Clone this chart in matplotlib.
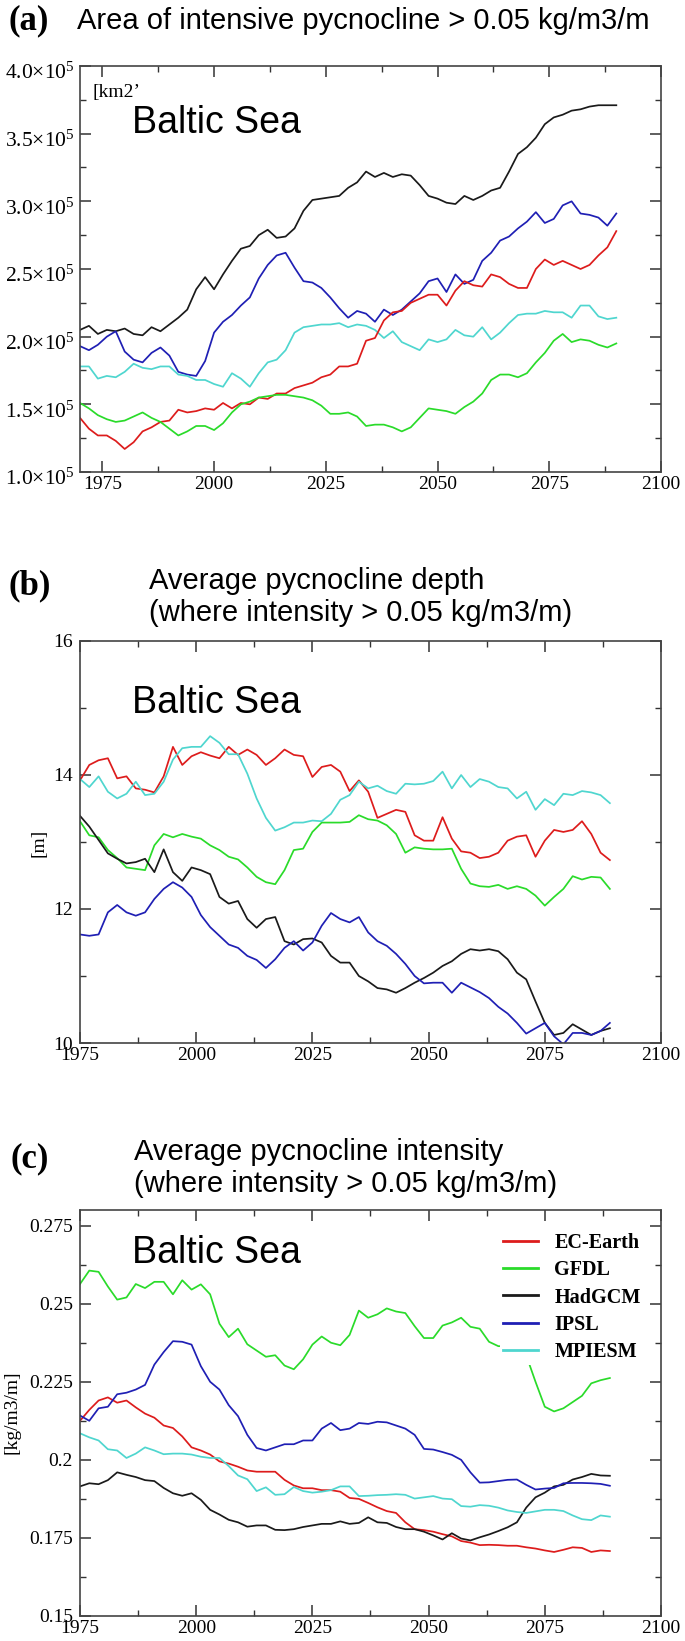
import numpy as np
import matplotlib
matplotlib.use('Agg')
import matplotlib.pyplot as plt
import matplotlib.transforms as mtransforms
from matplotlib.ticker import MultipleLocator, FuncFormatter

plt.rcParams['font.family'] = 'Liberation Serif'
plt.rcParams['mathtext.fontset'] = 'custom'
plt.rcParams['mathtext.rm'] = 'Liberation Serif'
plt.rcParams['mathtext.it'] = 'Liberation Serif:italic'

# ---------------- data ----------------
models = ['EC-Earth', 'GFDL', 'HadGCM', 'IPSL', 'MPIESM']
colors = ['#dd1c1c', '#2adb2a', '#1a1a1a', '#1f1fb4', '#4fd6cf']

# (a) area of intensive pycnocline, units of 1e5 km2, 1970..2090 every 2 yrs
years_a = np.arange(1970, 2091, 2)
area_ec = [1.40, 1.32, 1.27, 1.27, 1.23, 1.17, 1.22, 1.30, 1.33, 1.37, 1.38, 1.46, 1.44, 1.45, 1.47, 1.46,
           1.51, 1.47, 1.51, 1.50, 1.55, 1.54, 1.58, 1.58, 1.62, 1.64, 1.66, 1.70, 1.72, 1.78, 1.78, 1.80,
           1.97, 1.99, 2.12, 2.18, 2.19, 2.25, 2.28, 2.31, 2.31, 2.23, 2.34, 2.41, 2.38, 2.37, 2.46, 2.44,
           2.39, 2.36, 2.36, 2.50, 2.57, 2.53, 2.56, 2.53, 2.50, 2.53, 2.60, 2.66, 2.78]
area_gfdl = [1.51, 1.47, 1.42, 1.39, 1.37, 1.38, 1.41, 1.44, 1.40, 1.37, 1.32, 1.27, 1.30, 1.34, 1.34, 1.31,
             1.36, 1.44, 1.50, 1.52, 1.55, 1.56, 1.57, 1.57, 1.56, 1.55, 1.53, 1.49, 1.43, 1.43, 1.44, 1.41,
             1.34, 1.35, 1.35, 1.33, 1.30, 1.33, 1.40, 1.47, 1.46, 1.45, 1.43, 1.48, 1.52, 1.58, 1.68, 1.72,
             1.72, 1.70, 1.73, 1.81, 1.88, 1.97, 2.02, 1.96, 1.98, 1.97, 1.94, 1.92, 1.95]
area_had = [2.05, 2.08, 2.02, 2.05, 2.04, 2.06, 2.02, 2.01, 2.07, 2.04, 2.09, 2.14, 2.20, 2.35, 2.44, 2.35,
            2.46, 2.56, 2.65, 2.67, 2.75, 2.79, 2.73, 2.74, 2.80, 2.93, 3.01, 3.02, 3.03, 3.04, 3.10, 3.14,
            3.22, 3.18, 3.21, 3.18, 3.20, 3.19, 3.12, 3.04, 3.02, 2.99, 2.98, 3.04, 3.01, 3.04, 3.08, 3.10,
            3.22, 3.35, 3.40, 3.47, 3.57, 3.62, 3.64, 3.67, 3.68, 3.70, 3.71, 3.71, 3.71]
area_ipsl = [1.93, 1.90, 1.94, 2.00, 2.04, 1.89, 1.83, 1.81, 1.88, 1.92, 1.86, 1.74, 1.72, 1.71, 1.82, 2.03,
             2.11, 2.16, 2.23, 2.29, 2.43, 2.53, 2.60, 2.62, 2.51, 2.41, 2.40, 2.36, 2.29, 2.21, 2.14, 2.19,
             2.17, 2.11, 2.20, 2.16, 2.20, 2.26, 2.32, 2.41, 2.43, 2.33, 2.46, 2.39, 2.42, 2.56, 2.62, 2.71,
             2.74, 2.80, 2.85, 2.92, 2.84, 2.87, 2.97, 3.00, 2.91, 2.90, 2.88, 2.82, 2.91]
area_mpi = [1.78, 1.78, 1.69, 1.71, 1.70, 1.74, 1.80, 1.77, 1.76, 1.78, 1.78, 1.72, 1.71, 1.68, 1.68, 1.65,
            1.63, 1.73, 1.69, 1.63, 1.73, 1.81, 1.83, 1.90, 2.03, 2.07, 2.08, 2.09, 2.09, 2.10, 2.07, 2.09,
            2.08, 2.05, 1.99, 2.04, 1.96, 1.93, 1.90, 1.98, 1.96, 1.98, 2.05, 2.01, 2.00, 2.07, 1.98, 2.03,
            2.10, 2.16, 2.17, 2.17, 2.19, 2.18, 2.18, 2.14, 2.23, 2.23, 2.15, 2.13, 2.14]

# (b) average pycnocline depth [m], 1975..2089 every 2 yrs
years_bc = np.arange(1975, 2090, 2)
depth_ec = [13.92, 14.15, 14.22, 14.25, 13.95, 13.98, 13.80, 13.78, 13.74, 13.98, 14.42, 14.15, 14.28, 14.34,
            14.29, 14.25, 14.42, 14.30, 14.38, 14.30, 14.15, 14.25, 14.38, 14.30, 14.28, 13.97, 14.12, 14.15,
            14.05, 13.76, 13.92, 13.75, 13.36, 13.42, 13.48, 13.45, 13.10, 13.02, 13.02, 13.37, 13.05, 12.86,
            12.84, 12.76, 12.78, 12.84, 13.02, 13.08, 13.10, 12.78, 13.02, 13.18, 13.15, 13.18, 13.31, 13.12,
            12.84, 12.73]
depth_gfdl = [13.31, 13.10, 13.07, 12.88, 12.76, 12.62, 12.60, 12.58, 12.95, 13.12, 13.07, 13.12, 13.08, 13.05,
              12.95, 12.88, 12.78, 12.74, 12.62, 12.48, 12.40, 12.37, 12.58, 12.88, 12.90, 13.15, 13.29, 13.29,
              13.29, 13.30, 13.40, 13.34, 13.32, 13.25, 13.12, 12.84, 12.92, 12.90, 12.89, 12.89, 12.90, 12.60,
              12.38, 12.34, 12.33, 12.36, 12.30, 12.34, 12.30, 12.20, 12.05, 12.18, 12.30, 12.49, 12.44, 12.48,
              12.47, 12.30]
depth_had = [13.39, 13.23, 13.03, 12.83, 12.75, 12.68, 12.70, 12.75, 12.55, 12.89, 12.55, 12.42, 12.62, 12.58,
             12.52, 12.18, 12.08, 12.12, 11.85, 11.72, 11.85, 11.88, 11.52, 11.47, 11.55, 11.56, 11.50, 11.30,
             11.20, 11.20, 11.00, 10.92, 10.82, 10.80, 10.75, 10.82, 10.90, 10.97, 11.05, 11.15, 11.22, 11.33,
             11.40, 11.38, 11.40, 11.37, 11.25, 11.05, 10.95, 10.62, 10.30, 10.12, 10.15, 10.28, 10.20, 10.12,
             10.18, 10.22]
depth_ipsl = [11.62, 11.60, 11.62, 11.95, 12.06, 11.95, 11.90, 11.95, 12.15, 12.30, 12.40, 12.32, 12.18, 11.91,
              11.73, 11.60, 11.47, 11.42, 11.30, 11.24, 11.12, 11.25, 11.42, 11.52, 11.38, 11.50, 11.75, 11.94,
              11.85, 11.80, 11.88, 11.65, 11.52, 11.45, 11.33, 11.18, 11.00, 10.89, 10.90, 10.90, 10.75, 10.90,
              10.83, 10.76, 10.67, 10.54, 10.44, 10.30, 10.14, 10.22, 10.30, 10.10, 9.98, 10.15, 10.15, 10.12,
              10.18, 10.30]
depth_mpi = [13.94, 13.82, 13.98, 13.75, 13.65, 13.72, 13.90, 13.70, 13.72, 13.90, 14.23, 14.40, 14.42, 14.42,
             14.58, 14.48, 14.31, 14.31, 14.02, 13.65, 13.36, 13.17, 13.22, 13.29, 13.29, 13.32, 13.31, 13.42,
             13.63, 13.70, 13.90, 13.80, 13.84, 13.76, 13.72, 13.87, 13.86, 13.87, 13.91, 14.05, 13.80, 14.00,
             13.82, 13.94, 13.90, 13.82, 13.80, 13.65, 13.75, 13.48, 13.64, 13.55, 13.72, 13.70, 13.76, 13.74,
             13.70, 13.58]

# (c) average pycnocline intensity [kg/m3/m], 1975..2089 every 2 yrs
inten_ec = [0.2125, 0.2160, 0.2190, 0.2200, 0.2183, 0.2190, 0.2168, 0.2148, 0.2135, 0.2110, 0.2102, 0.2075,
            0.2040, 0.2030, 0.2017, 0.1995, 0.1988, 0.1978, 0.1966, 0.1962, 0.1962, 0.1962, 0.1936, 0.1918,
            0.1909, 0.1909, 0.1903, 0.1903, 0.1898, 0.1878, 0.1875, 0.1862, 0.1848, 0.1836, 0.1830, 0.1800,
            0.1778, 0.1775, 0.1770, 0.1762, 0.1755, 0.1740, 0.1735, 0.1727, 0.1728, 0.1727, 0.1725, 0.1725,
            0.1720, 0.1716, 0.1710, 0.1705, 0.1712, 0.1720, 0.1718, 0.1705, 0.1710, 0.1708]
inten_gfdl = [0.2563, 0.2606, 0.2602, 0.2555, 0.2513, 0.2520, 0.2563, 0.2550, 0.2570, 0.2570, 0.2530, 0.2575,
              0.2545, 0.2562, 0.2530, 0.2436, 0.2393, 0.2420, 0.2370, 0.2350, 0.2330, 0.2335, 0.2302, 0.2290,
              0.2322, 0.2369, 0.2395, 0.2375, 0.2367, 0.2400, 0.2478, 0.2455, 0.2466, 0.2485, 0.2475, 0.2470,
              0.2428, 0.2390, 0.2390, 0.2430, 0.2440, 0.2455, 0.2426, 0.2420, 0.2378, 0.2364, 0.2364, 0.2370,
              0.2335, 0.2250, 0.2170, 0.2155, 0.2165, 0.2185, 0.2205, 0.2245, 0.2255, 0.2262]
inten_had = [0.1915, 0.1925, 0.1922, 0.1935, 0.1960, 0.1952, 0.1945, 0.1935, 0.1932, 0.1910, 0.1893, 0.1885,
             0.1893, 0.1872, 0.1840, 0.1825, 0.1808, 0.1800, 0.1786, 0.1790, 0.1790, 0.1776, 0.1775, 0.1778,
             0.1785, 0.1790, 0.1795, 0.1795, 0.1803, 0.1795, 0.1798, 0.1816, 0.1800, 0.1798, 0.1785, 0.1778,
             0.1778, 0.1770, 0.1758, 0.1745, 0.1765, 0.1748, 0.1742, 0.1752, 0.1761, 0.1772, 0.1784, 0.1800,
             0.1847, 0.1880, 0.1895, 0.1915, 0.1920, 0.1937, 0.1945, 0.1955, 0.1950, 0.1949]
inten_ipsl = [0.2142, 0.2125, 0.2165, 0.2170, 0.2210, 0.2215, 0.2225, 0.2240, 0.2305, 0.2345, 0.2380, 0.2378,
              0.2369, 0.2300, 0.2250, 0.2225, 0.2175, 0.2140, 0.2080, 0.2038, 0.2030, 0.2040, 0.2050, 0.2050,
              0.2062, 0.2062, 0.2100, 0.2118, 0.2095, 0.2100, 0.2118, 0.2115, 0.2122, 0.2120, 0.2110, 0.2100,
              0.2080, 0.2035, 0.2033, 0.2025, 0.2016, 0.2000, 0.1960, 0.1927, 0.1928, 0.1932, 0.1936, 0.1937,
              0.1920, 0.1905, 0.1908, 0.1910, 0.1925, 0.1926, 0.1926, 0.1925, 0.1923, 0.1917]
inten_mpi = [0.2085, 0.2072, 0.2062, 0.2034, 0.2030, 0.2006, 0.2020, 0.2040, 0.2030, 0.2018, 0.2020, 0.2020,
             0.2017, 0.2010, 0.2006, 0.2006, 0.1980, 0.1950, 0.1938, 0.1900, 0.1912, 0.1888, 0.1890, 0.1913,
             0.1900, 0.1895, 0.1898, 0.1903, 0.1915, 0.1915, 0.1884, 0.1885, 0.1887, 0.1888, 0.1890, 0.1888,
             0.1876, 0.1880, 0.1884, 0.1876, 0.1874, 0.1852, 0.1850, 0.1855, 0.1853, 0.1847, 0.1838, 0.1833,
             0.1830, 0.1835, 0.1840, 0.1840, 0.1836, 0.1822, 0.1810, 0.1807, 0.1822, 0.1818]

W, H = 685, 1641
fig = plt.figure(figsize=(W / 100, H / 100), dpi=100)


def px(x, y):
    return x / W, 1 - y / H


def make_axes(top, bottom):
    ax = fig.add_axes([80 / W, 1 - bottom / H, 581 / W, (bottom - top) / H])
    for s in ax.spines.values():
        s.set_color('#444444')
        s.set_linewidth(1.2)
    ax.tick_params(which='both', direction='in', top=True, right=True, colors='#333333',
                   labelcolor='black', labelsize=14)
    ax.tick_params(which='major', length=8, width=1.1)
    ax.tick_params(which='minor', length=4.3, width=1.0)
    ax.tick_params(axis='y', pad=5)
    ax.tick_params(axis='x', pad=3)
    ax.xaxis.set_major_locator(MultipleLocator(25))
    ax.xaxis.set_minor_locator(MultipleLocator(12.5))
    return ax


# ---- (a)
ax = make_axes(66, 472)
for vals, c in zip([area_had, area_ipsl, area_mpi, area_ec, area_gfdl],
                   [colors[2], colors[3], colors[4], colors[0], colors[1]]):
    ax.plot(years_a, np.array(vals) * 1e5, color=c, lw=1.25)
ax.set_xlim(1970, 2100)
ax.set_ylim(1e5, 4e5)
ax.set_xticks([1975, 2000, 2025, 2050, 2075, 2100])
ax.yaxis.set_major_locator(MultipleLocator(0.5e5))
ax.yaxis.set_minor_locator(MultipleLocator(0.25e5))
ax.yaxis.set_major_formatter(FuncFormatter(lambda v, p: r'$%.1f{\times}10^{5}$' % (v / 1e5)))
ax.tick_params(axis='y', labelsize=15.5, pad=4)
shift = mtransforms.ScaledTranslation(0, -0.05, fig.dpi_scale_trans)
for lab in ax.get_yticklabels():
    lab.set_transform(lab.get_transform() + shift)
fig.text(*px(92, 93), "[km2\u2019", fontsize=14, va='center', ha='left')

# ---- (b)
ax = make_axes(641, 1043)
for vals, c in zip([depth_ec, depth_gfdl, depth_had, depth_ipsl, depth_mpi], colors):
    ax.plot(years_bc, vals, color=c, lw=1.25)
ax.set_xlim(1975, 2100)
ax.set_ylim(10, 16)
ax.yaxis.set_major_locator(MultipleLocator(2))
ax.yaxis.set_minor_locator(MultipleLocator(1))
ax.yaxis.set_major_formatter(FuncFormatter(lambda v, p: '%g' % v))
fig.text(*px(39, 843), '[m]', fontsize=14, rotation=90, va='center', ha='center')

# ---- (c)
ax = make_axes(1210, 1616)
for vals, c, m in zip([inten_ec, inten_gfdl, inten_had, inten_ipsl, inten_mpi], colors, models):
    ax.plot(years_bc, vals, color=c, lw=1.25, label=m)
ax.set_xlim(1975, 2100)
ax.set_ylim(0.15, 0.28)
ax.yaxis.set_major_locator(MultipleLocator(0.025))
ax.yaxis.set_minor_locator(MultipleLocator(0.0125))
ax.yaxis.set_major_formatter(FuncFormatter(lambda v, p: '%g' % round(v, 4)))
fig.text(*px(12, 1412), '[kg/m3/m]', fontsize=14, rotation=90, va='center', ha='center')
leg = ax.legend(loc='upper left', bbox_to_anchor=((500 - 80) / 581, (1616 - 1230) / 406),
                prop=dict(family='Liberation Serif', weight='bold', size=14.5),
                handlelength=1.75, handletextpad=0.8, labelspacing=0.36, borderpad=0.15,
                borderaxespad=0, frameon=True, fancybox=False)
leg.get_frame().set_edgecolor('none')
leg.get_frame().set_facecolor('white')
leg.get_frame().set_alpha(1)
for h in leg.get_lines():
    h.set_linewidth(2)

# ---- titles and labels
sans = 'Liberation Sans'
fig.text(*px(8, 21), '(a)', fontsize=25, weight='bold', va='center')
fig.text(*px(77, 21), 'Area of intensive pycnocline > 0.05 kg/m3/m', fontsize=21, family=sans, va='center')
fig.text(*px(8, 586), '(b)', fontsize=25, weight='bold', va='center')
fig.text(*px(149, 581), 'Average pycnocline depth', fontsize=21, family=sans, va='center')
fig.text(*px(149, 613), '(where intensity > 0.05 kg/m3/m)', fontsize=21, family=sans, va='center')
fig.text(*px(10, 1159), '(c)', fontsize=25, weight='bold', va='center')
fig.text(*px(134, 1152), 'Average pycnocline intensity', fontsize=21, family=sans, va='center')
fig.text(*px(134, 1184), '(where intensity > 0.05 kg/m3/m)', fontsize=21, family=sans, va='center')
for yc in [123, 703, 1253]:
    fig.text(*px(132, yc), 'Baltic Sea', fontsize=27, family=sans, va='center')

fig.savefig('out.png', dpi=100)
